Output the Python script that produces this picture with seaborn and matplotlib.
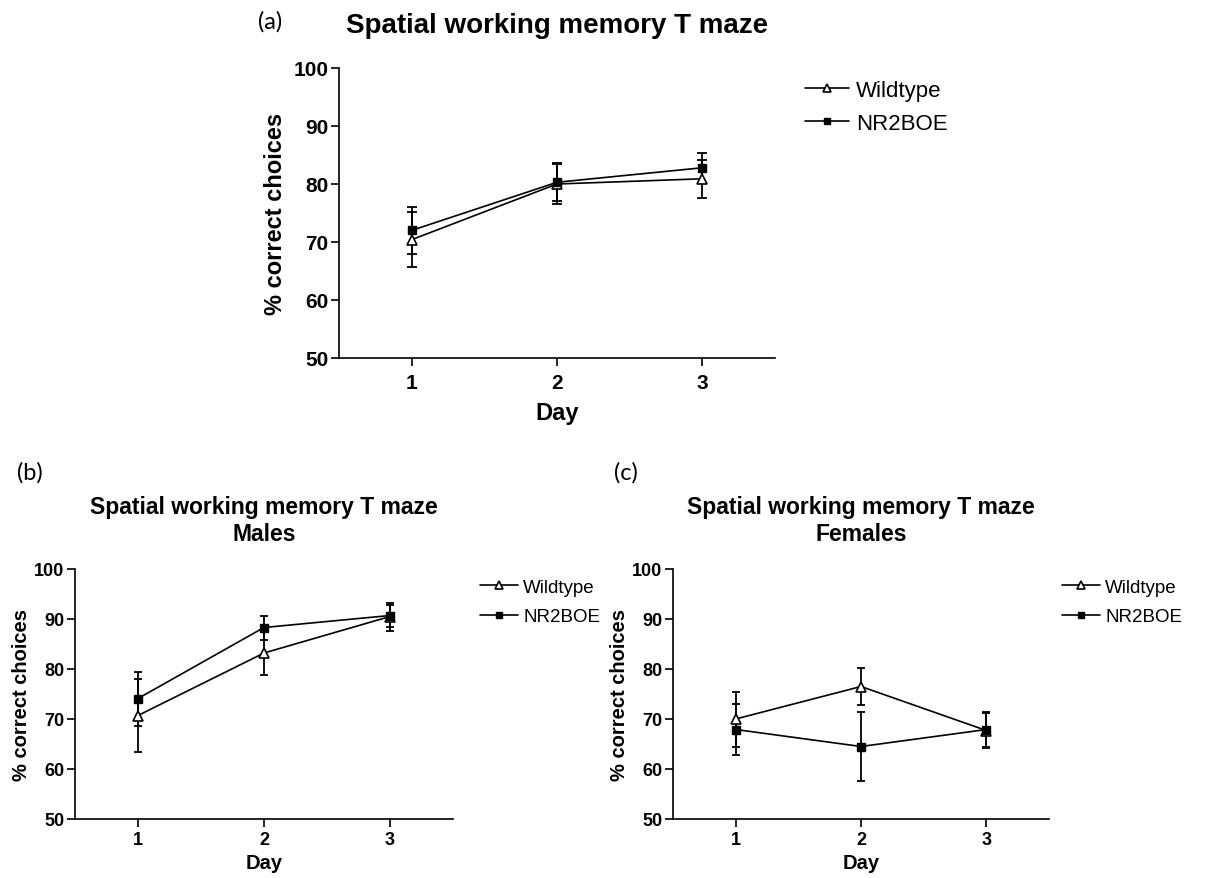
import numpy as np
import pandas as pd
import matplotlib
matplotlib.use("Agg")
import matplotlib.pyplot as plt
import seaborn as sns
from matplotlib.lines import Line2D

# ---------------- data ----------------
days = [1, 2, 3]
groups = ["Wildtype", "NR2BOE"]

a_wt = [70.4, 80.0, 80.9]
a_wt_err = [4.7, 3.5, 3.3]
a_nr = [72.0, 80.3, 82.8]
a_nr_err = [4.0, 3.3, 2.6]

b_wt = [70.7, 83.2, 90.5]
b_wt_err = [7.3, 4.3, 2.8]
b_nr = [74.1, 88.3, 90.7]
b_nr_err = [5.4, 2.4, 2.2]

c_wt = [70.0, 76.5, 67.7]
c_wt_err = [5.5, 3.7, 3.5]
c_nr = [67.9, 64.5, 67.9]
c_nr_err = [5.1, 6.9, 3.5]

yticks = [50, 60, 70, 80, 90, 100]
xticks = [1, 2, 3]

sns.set_style("ticks")
plt.rcParams["font.family"] = ["Liberation Sans", "DejaVu Sans"]
plt.rcParams["axes.linewidth"] = 1.2
for k in ["text.color", "axes.labelcolor", "xtick.color", "ytick.color", "axes.edgecolor"]:
    plt.rcParams[k] = "black"

W, H = 1207, 879
fig = plt.figure(figsize=(W / 100, H / 100), dpi=100)


def fx(px):
    return px / W


def fy(py):
    return 1 - py / H


def make_axes(left, right, top, bottom):
    return fig.add_axes([fx(left), fy(bottom), fx(right) - fx(left), fy(top) - fy(bottom)])


def panel(ax, wt, wt_err, nr, nr_err, title, tick_fs, label_fs, title_fs, title_pad,
          leg_x, leg_y, leg_fs, leg_sp, ms, cap, ylabelpad, xlabelpad, xpad):
    df = pd.DataFrame({
        "Day": days * 2,
        "pct": wt + nr,
        "Group": [groups[0]] * 3 + [groups[1]] * 3,
    })
    errs = {groups[0]: wt_err, groups[1]: nr_err}
    styles = {
        groups[0]: dict(marker="^", markerfacecolor="white", markeredgecolor="black",
                        markersize=ms + 1, markeredgewidth=1.2),
        groups[1]: dict(marker="s", markerfacecolor="black", markeredgecolor="black",
                        markersize=ms, markeredgewidth=1.0),
    }
    for g in groups:
        sub = df[df["Group"] == g]
        ax.errorbar(sub["Day"], sub["pct"], yerr=errs[g], fmt="none", ecolor="black",
                    elinewidth=1.3, capsize=cap, capthick=1.3, zorder=2)
        sns.lineplot(data=sub, x="Day", y="pct", ax=ax, color="black", linewidth=1.2,
                     errorbar=None, legend=False, zorder=3, **styles[g])
    ax.set_xlim(0.5, 3.5)
    ax.set_ylim(50, 100)
    ax.set_xticks(xticks)
    ax.set_yticks(yticks)
    ax.tick_params(axis="both", direction="out", length=6, width=1.2, labelsize=tick_fs,
                   colors="black")
    ax.tick_params(axis="y", pad=1.5)
    ax.tick_params(axis="x", pad=xpad)
    for lab in ax.get_xticklabels() + ax.get_yticklabels():
        lab.set_fontweight("bold")
    ax.set_xlabel("Day", fontsize=label_fs, fontweight="bold", labelpad=xlabelpad)
    ax.set_ylabel("% correct choices", fontsize=label_fs, fontweight="bold", labelpad=ylabelpad)
    sns.despine(ax=ax)
    ax.set_title(title, fontsize=title_fs, fontweight="bold", pad=title_pad, linespacing=1.2)
    handles = [
        Line2D([], [], color="black", linewidth=1.2, marker="^", markerfacecolor="white",
               markeredgecolor="black", markersize=ms, markeredgewidth=1.2),
        Line2D([], [], color="black", linewidth=1.2, marker="s", markerfacecolor="black",
               markeredgecolor="black", markersize=ms - 1),
    ]
    ax.legend(handles, groups, loc="center left", bbox_to_anchor=(fx(leg_x), fy(leg_y)),
              bbox_transform=fig.transFigure, frameon=False, fontsize=leg_fs,
              handlelength=2.0, handletextpad=0.3, labelspacing=leg_sp, borderpad=0,
              borderaxespad=0)


ax_a = make_axes(339, 775, 69, 359)
ax_b = make_axes(75, 453, 570, 820)
ax_c = make_axes(673, 1049, 570, 820)

panel(ax_a, a_wt, a_wt_err, a_nr, a_nr_err, "Spatial working memory T maze",
      tick_fs=15, label_fs=17, title_fs=20, title_pad=26, leg_x=805, leg_y=108,
      leg_fs=16, leg_sp=0.55, ms=6, cap=3.5, ylabelpad=5, xlabelpad=6, xpad=5)
panel(ax_b, b_wt, b_wt_err, b_nr, b_nr_err, "Spatial working memory T maze\nMales",
      tick_fs=13, label_fs=14.5, title_fs=16.5, title_pad=21, leg_x=480, leg_y=603,
      leg_fs=13.5, leg_sp=0.65, ms=5.5, cap=3, ylabelpad=2.5, xlabelpad=3, xpad=3)
panel(ax_c, c_wt, c_wt_err, c_nr, c_nr_err, "Spatial working memory T maze\nFemales",
      tick_fs=13, label_fs=14.5, title_fs=16.5, title_pad=21, leg_x=1062, leg_y=603,
      leg_fs=13.5, leg_sp=0.65, ms=5.5, cap=3, ylabelpad=2.5, xlabelpad=3, xpad=3)

fig.text(fx(270), fy(22), "(a)", fontsize=17, family=["Lato", "DejaVu Sans"],
         ha="center", va="center")
fig.text(fx(30), fy(473), "(b)", fontsize=17, family=["Lato", "DejaVu Sans"],
         ha="center", va="center")
fig.text(fx(626), fy(473), "(c)", fontsize=17, family=["Lato", "DejaVu Sans"],
         ha="center", va="center")

fig.savefig("out.png", dpi=100)
